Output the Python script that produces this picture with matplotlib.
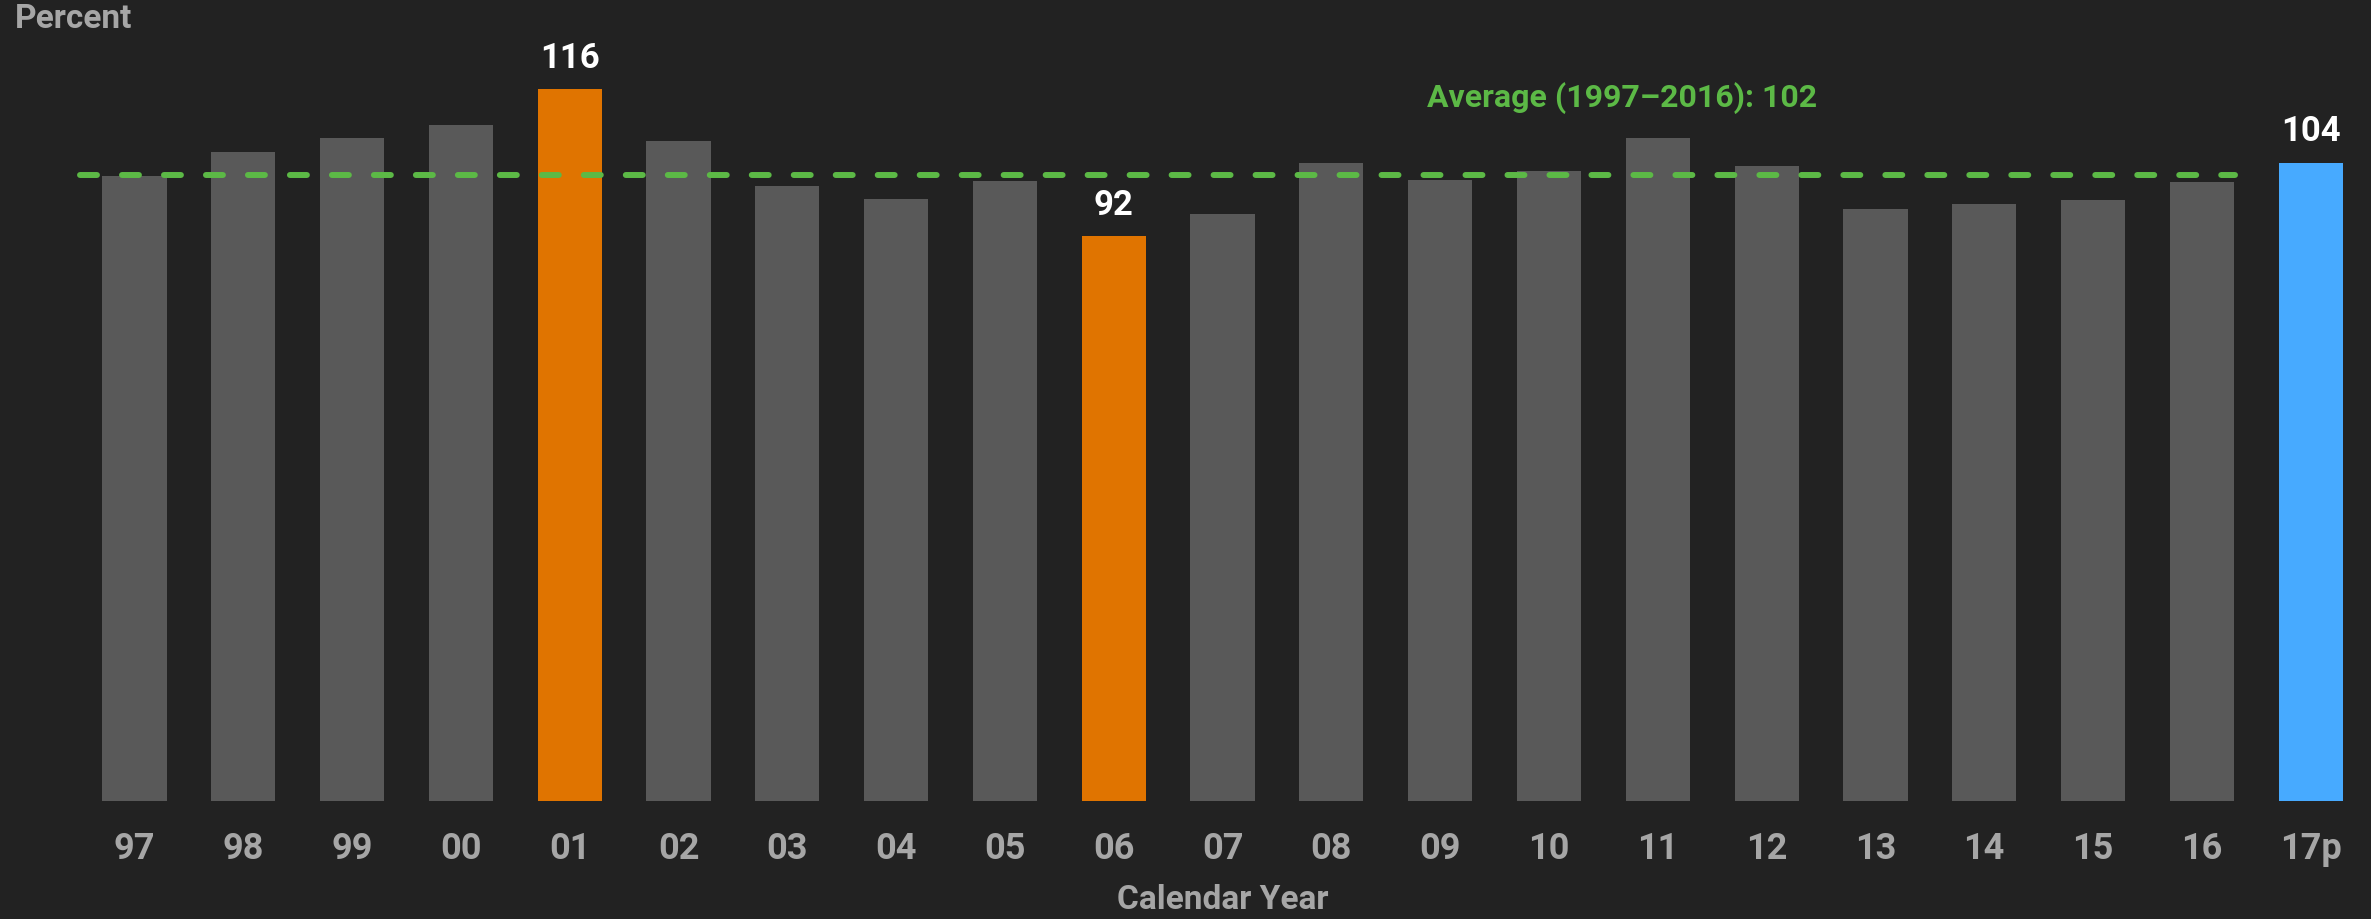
import numpy as np
import matplotlib.pyplot as plt
import matplotlib.font_manager as fm

# =============================================================================
# Data
# =============================================================================
years = ["97", "98", "99", "00", "01", "02", "03", "04", "05", "06", "07",
         "08", "09", "10", "11", "12", "13", "14", "15", "16", "17p"]
percent = [101.8, 105.8, 108.0, 110.2, 116, 107.5, 100.2, 98.1, 101.0, 92,
           95.6, 103.9, 101.2, 102.6, 108.0, 103.4, 96.4, 97.3, 97.9, 100.8, 104]
labelled = ["01", "06", "17p"]
average = 102
avg_label = "Average (1997\u20132016): 102"

# =============================================================================
# Style
# =============================================================================
bg = "#222222"
gray_bar = "#595959"
orange = "#E07400"
blue = "#47AAFF"
green = "#5CB946"
text_gray = "#A6A6A6"

names = {f.name for f in fm.fontManager.ttflist}
family = [f for f in ["Liberation Sans Narrow", "Roboto", "DejaVu Sans"] if f in names]
plt.rcParams["font.family"] = family
plt.rcParams["font.weight"] = "bold"

fig = plt.figure(figsize=(23.71, 9.20), dpi=100, facecolor=bg)
ax = fig.add_axes([0.0246, 0.1283, 0.9729, 0.834])
ax.set_facecolor(bg)

colors = []
for y in years:
    if y == "17p":
        colors.append(blue)
    elif y in labelled:
        colors.append(orange)
    else:
        colors.append(gray_bar)

x = np.arange(len(years))
bars = ax.bar(x, percent, width=0.59, color=colors)

for xi, y, v in zip(x, years, percent):
    if y in labelled:
        ax.annotate(f"{v:.0f}", (xi, v), xytext=(0, 11), textcoords="offset points",
                    ha="center", va="bottom", color="white", fontsize=25,
                    fontweight="bold")

# average line over the 1997-2016 bars
ax.plot([-0.5, 19.3], [average, average], color=green, lw=4.3,
        linestyle=(0, (2.84, 4.19)), dash_capstyle="round")
ax.text(13.67, 114.7, avg_label, color=green, fontsize=23, fontweight="bold",
        ha="center", va="center")

ax.set_xlim(-0.7, 20.5)
ax.set_ylim(0, 125)
ax.set_xticks(x)
ax.set_xticklabels(years, color=text_gray, fontsize=26, fontweight="bold")
ax.tick_params(axis="x", length=0, pad=21)
ax.set_yticks([])
for s in ax.spines.values():
    s.set_visible(False)

fig.text(0.0063, 0.979, "Percent", color=text_gray, fontsize=24,
         fontweight="bold", ha="left", va="center")
fig.text(0.5155, 0.022, "Calendar Year", color=text_gray, fontsize=24,
         fontweight="bold", ha="center", va="center")

fig.savefig("out.png", dpi=100, facecolor=bg)
